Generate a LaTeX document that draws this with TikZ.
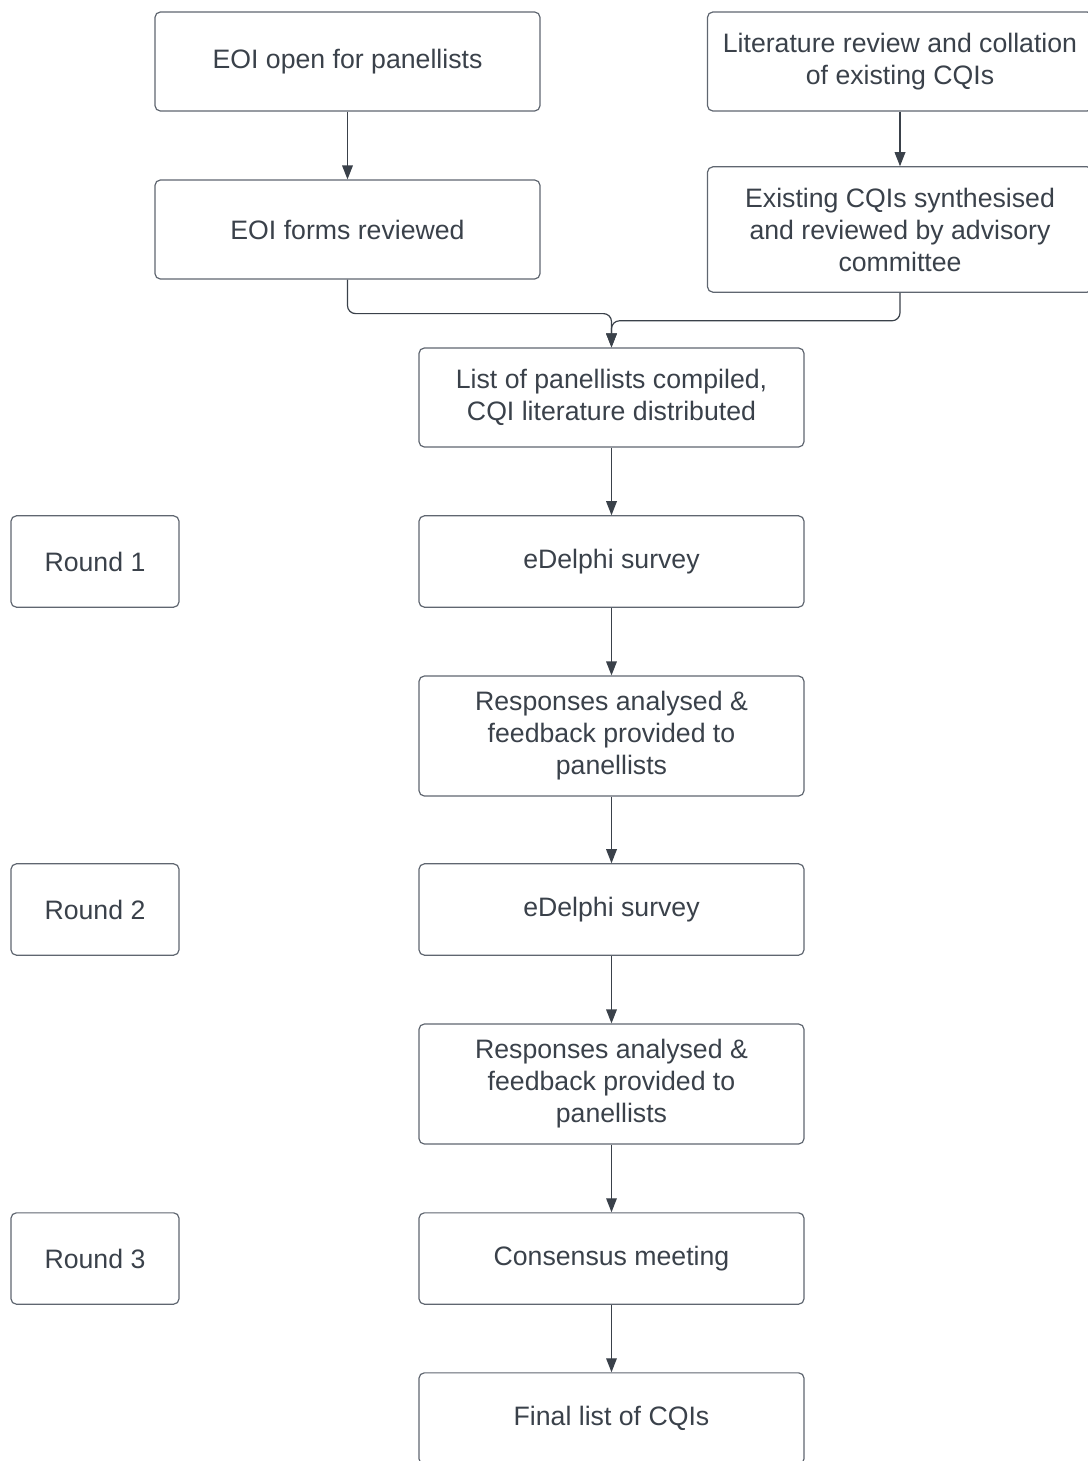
\documentclass[tikz,border=0pt]{standalone}
\usepackage{fontspec}
\setmainfont{Liberation Sans}
\usepackage{xcolor}
\usepackage{tikz}
\usetikzlibrary{arrows.meta}
\definecolor{box_line}{HTML}{5f6670}
\definecolor{box_text}{HTML}{3a414a}
\definecolor{arrow_dark}{HTML}{3a414a}

\begin{document}
\begin{tikzpicture}[x=0.75pt, y=-0.75pt, >={Triangle[length=10.5pt, width=8pt]},
  every node/.style={font=\fontsize{20}{24}\selectfont, text=box_text},
  stage/.style={draw=box_line, line width=0.9pt, rounded corners=4pt, align=center,
    minimum width=288.75pt, minimum height=74.25pt, inner sep=0pt},
  tall/.style={stage, minimum height=92pt},
  roundbox/.style={stage, minimum width=126pt, minimum height=68.5pt},
  flow/.style={->, draw=arrow_dark, line width=0.9pt, rounded corners=6pt}]

  \useasboundingbox (0,0) rectangle (1088,1461);

  \node[stage] (eoiopen) at (347.5,61.5) {EOI open for panellists};
  \node[stage] (eoiforms) at (347.5,229.5) {EOI forms reviewed};
  \node[stage] (litreview) at (900,61.5) {Literature review and collation\\of existing CQIs};
  \node[tall, minimum height=94pt] (synth) at (900,229.5) {Existing CQIs synthesised\\and reviewed by advisory\\committee};

  \node[stage] (panel) at (611.5,397.5) {List of panellists compiled,\\CQI literature distributed};
  \node[stage, minimum height=68.5pt] (survey1) at (611.5,561.5) {eDelphi survey};
  \node[tall, minimum height=90pt] (resp1) at (611.5,736) {Responses analysed \&\\feedback provided to\\panellists};
  \node[stage, minimum height=68.5pt] (survey2) at (611.5,909.5) {eDelphi survey};
  \node[tall, minimum height=90pt] (resp2) at (611.5,1084) {Responses analysed \&\\feedback provided to\\panellists};
  \node[stage, minimum height=68.5pt] (consensus) at (611.5,1258.5) {Consensus meeting};
  \node[stage, minimum height=68.5pt] (final) at (611.5,1418.5) {Final list of CQIs};

  \node[roundbox] (round1) at (95,561.5) {Round 1};
  \node[roundbox] (round2) at (95,909.5) {Round 2};
  \node[roundbox] (round3) at (95,1258.5) {Round 3};

  \draw[flow] (eoiopen) -- (eoiforms);
  \draw[flow] (litreview) -- (synth);
  \draw[flow] (eoiforms.south) -- ++(0,34) -| (panel.north);
  \draw[flow] (synth.south) -- ++(0,28) -| (panel.north);
  \draw[flow] (panel) -- (survey1);
  \draw[flow] (survey1) -- (resp1);
  \draw[flow] (resp1) -- (survey2);
  \draw[flow] (survey2) -- (resp2);
  \draw[flow] (resp2) -- (consensus);
  \draw[flow] (consensus) -- (final);

\end{tikzpicture}
\end{document}
